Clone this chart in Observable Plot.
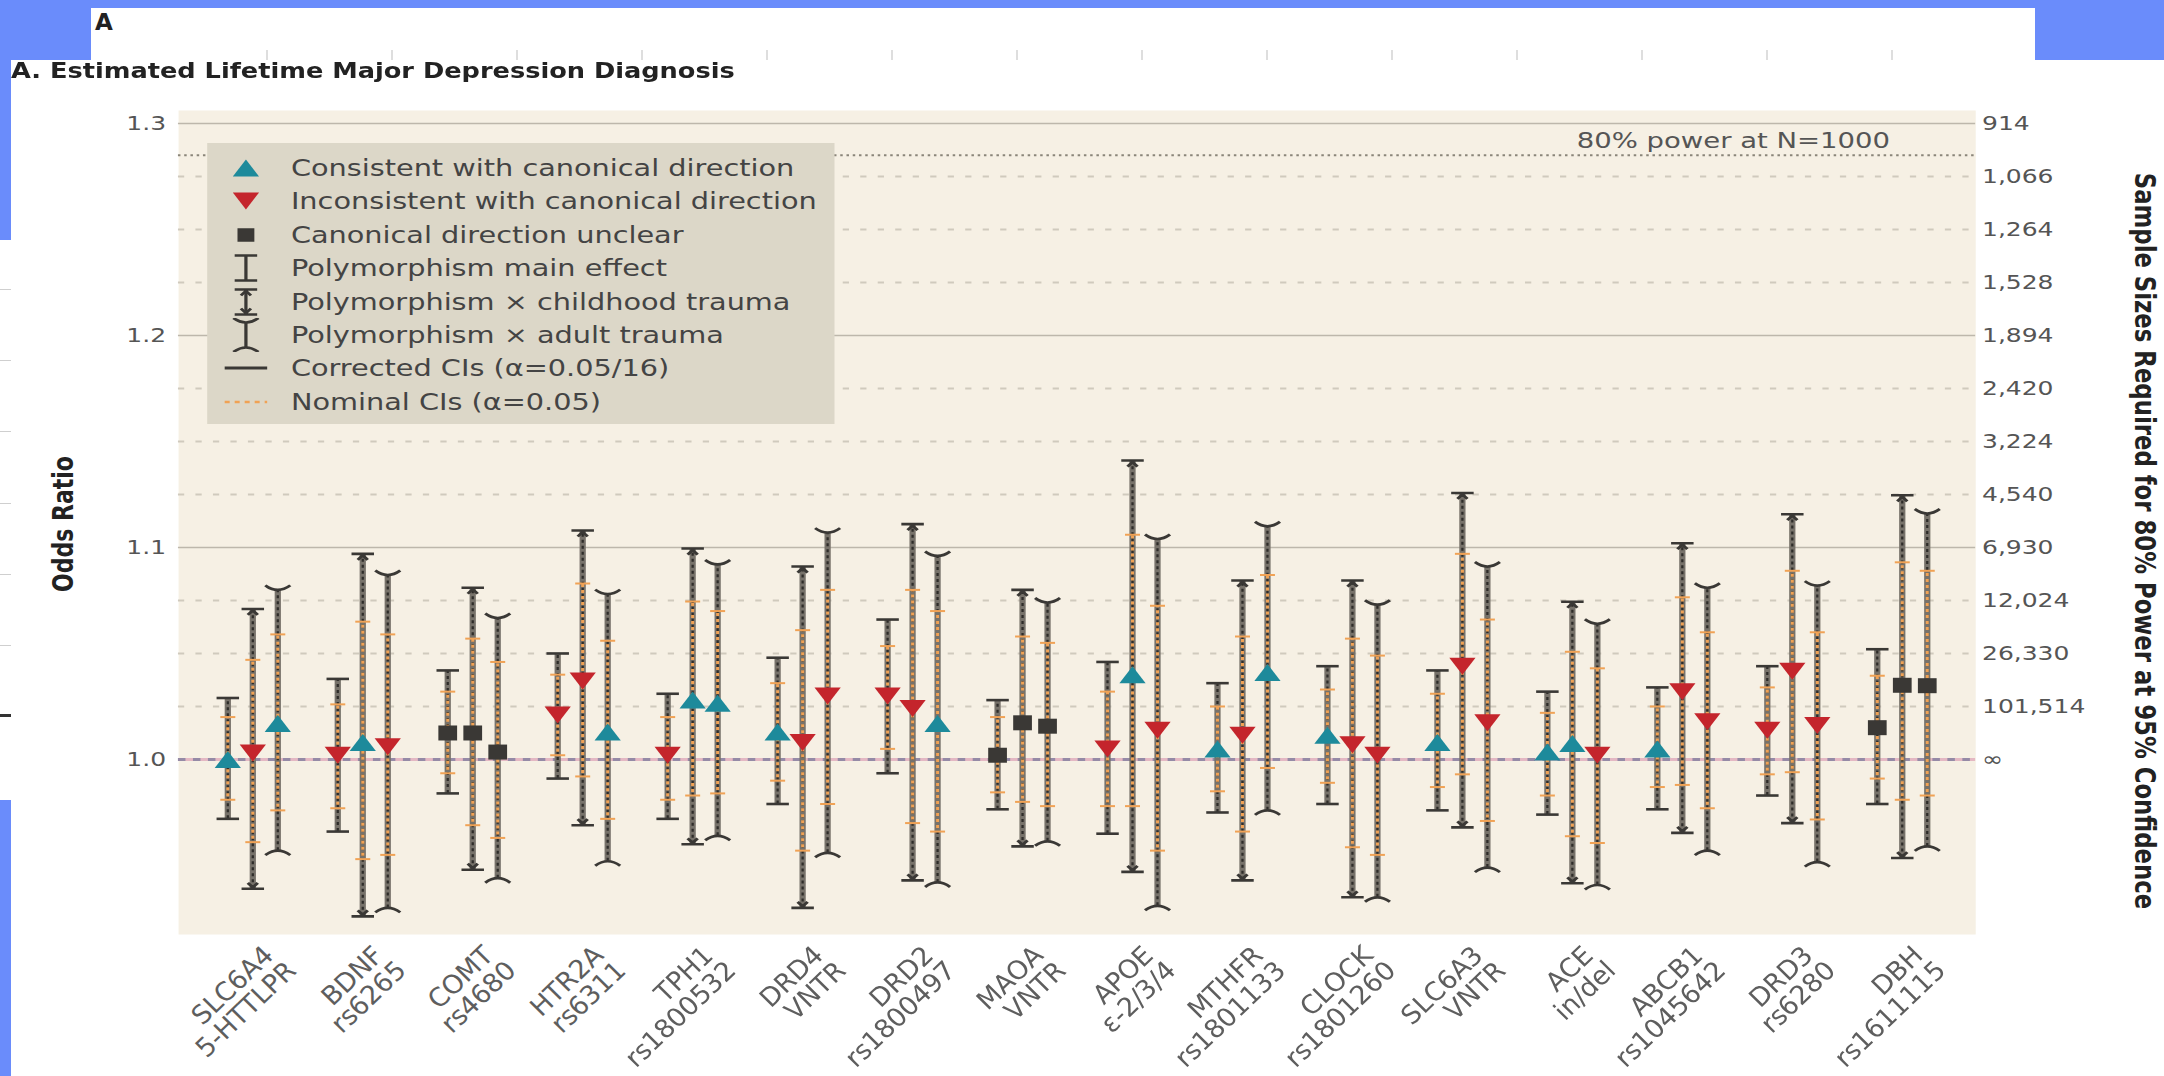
<!DOCTYPE html>
<html><head><meta charset="utf-8">
<script src="https://cdn.jsdelivr.net/npm/d3@7"></script>
<script src="https://cdn.jsdelivr.net/npm/@observablehq/plot@0.6"></script>
<style>
html,body{margin:0;padding:0}
body{width:2164px;height:1076px;background:#6a8cfb;position:relative;overflow:hidden;font-family:"DejaVu Sans",sans-serif}
.abs{position:absolute}
#panel svg{display:block}
</style></head><body>
<div class="abs" style="left:91px;top:8px;width:1944px;height:52px;background:#fff"></div>
<div class="abs" style="left:266px;top:50px;width:1640px;height:10px;background:repeating-linear-gradient(to right,#dedede 0 2px,transparent 2px 125px)"></div>
<div class="abs" style="left:95px;top:10.5px;font:bold 23px/23px 'DejaVu Sans';color:#222">A</div>
<div class="abs" id="frag" style="left:0;top:240px;width:11px;height:560px;background:#fff"></div>
<div class="abs" style="left:11px;top:60px;width:2153px;height:1016px;background:#fff"></div>
<div class="abs" id="panel" style="left:11px;top:60px;width:1723px;height:1016px;transform:scaleX(1.2496);transform-origin:0 0"></div>
<script>
// ---------- data ----------
const genes = ["SLC6A4\n5-HTTLPR","BDNF\nrs6265","COMT\nrs4680","HTR2A\nrs6311","TPH1\nrs1800532","DRD4\nVNTR","DRD2\nrs1800497","MAOA\nVNTR","APOE\nε-2/3/4","MTHFR\nrs1801133","CLOCK\nrs1801260","SLC6A3\nVNTR","ACE\nin/del","ABCB1\nrs1045642","DRD3\nrs6280","DBH\nrs1611115"];
const effects = ["Polymorphism main effect","Polymorphism × childhood trauma","Polymorphism × adult trauma"];

// direction codes: c = consistent, i = inconsistent, u = unclear
const dirMain  = ["c","i","u","i","i","c","i","u","i","c","c","c","c","c","i","u"];
const orMain   = [1.000,1.002,1.0125,1.021,1.002,1.013,1.030,1.002,1.005,1.005,1.0114,1.008,1.0035,1.005,1.0138,1.015];
const loMain   = [0.972,0.966,0.984,0.991,0.972,0.979,0.9935,0.9765,0.965,0.975,0.979,0.976,0.974,0.9765,0.983,0.979];
const hiMain   = [1.029,1.038,1.042,1.050,1.031,1.048,1.066,1.028,1.046,1.036,1.044,1.042,1.032,1.034,1.044,1.052];
const nloMain  = [0.981,0.977,0.9935,1.002,0.981,0.990,1.005,0.9845,0.978,0.985,0.989,0.987,0.983,0.987,0.993,0.991];
const nhiMain  = [1.020,1.026,1.032,1.040,1.020,1.036,1.0535,1.020,1.032,1.025,1.033,1.031,1.022,1.025,1.034,1.0395];

const dirChild = ["i","c","u","i","c","i","i","u","c","i","i","i","c","i","i","u"];
const orChild  = [1.003,1.008,1.0125,1.037,1.028,1.008,1.024,1.0173,1.040,1.0114,1.007,1.044,1.0075,1.032,1.0416,1.035];
const loChild  = [0.939,0.926,0.948,0.969,0.960,0.930,0.943,0.959,0.947,0.943,0.935,0.968,0.9416,0.9654,0.970,0.9535];
const hiChild  = [1.071,1.097,1.081,1.108,1.0995,1.091,1.111,1.080,1.141,1.0844,1.0844,1.1257,1.0744,1.102,1.1157,1.1246];
const nloChild = [0.961,0.953,0.969,0.992,0.983,0.957,0.970,0.980,0.978,0.966,0.9586,0.993,0.9638,0.988,0.994,0.981];
const nhiChild = [1.047,1.065,1.057,1.083,1.0745,1.061,1.080,1.058,1.106,1.058,1.057,1.097,1.0508,1.0765,1.089,1.093];

const dirAdult = ["c","i","u","c","c","i","c","u","i","c","i","i","i","i","i","u"];
const orAdult  = [1.017,1.006,1.0035,1.013,1.0265,1.030,1.017,1.0157,1.0138,1.041,1.002,1.0173,1.002,1.0178,1.016,1.0348];
const loAdult  = [0.957,0.930,0.944,0.952,0.964,0.956,0.942,0.9614,0.931,0.976,0.935,0.949,0.9408,0.957,0.9516,0.959];
const hiAdult  = [1.080,1.087,1.0667,1.078,1.092,1.107,1.096,1.074,1.104,1.110,1.073,1.091,1.064,1.081,1.082,1.116];
const nloAdult = [0.976,0.955,0.963,0.972,0.984,0.979,0.966,0.978,0.957,0.996,0.955,0.971,0.9606,0.977,0.9717,0.983];
const nhiAdult = [1.059,1.059,1.046,1.056,1.070,1.080,1.070,1.055,1.0725,1.087,1.049,1.066,1.043,1.060,1.060,1.089];

const leftTicks = [1.0, 1.1, 1.2, 1.3];
const sampleTicks = [1.3,1.275,1.25,1.225,1.2,1.175,1.15,1.125,1.1,1.075,1.05,1.025,1.0];
const sampleLabels = ["914","1,066","1,264","1,528","1,894","2,420","3,224","4,540","6,930","12,024","26,330","101,514","∞"];
const solidGrid = [1.1, 1.2, 1.3];
const powerOR = 1.285;
const powerLabel = "80% power at N=1000";
const yTitle = "Odds Ratio";
const y2Title = "Sample Sizes Required for 80% Power at 95% Confidence";
const title = "A. Estimated Lifetime Major Depression Diagnosis";
const legendLabels = ["Consistent with canonical direction","Inconsistent with canonical direction","Canonical direction unclear","Polymorphism main effect","Polymorphism × childhood trauma","Polymorphism × adult trauma","Corrected CIs (α=0.05/16)","Nominal CIs (α=0.05)"];

// ---------- styles ----------
const C = {beige:"#f6f0e4", legend:"#dcd7c8", teal:"#1d8a9b", red:"#c4252c", dark:"#3a3835", bar:"#77726a", orange:"#f0a255", grid:"#bdb7ab", dot:"#d0cabd", power:"#8a8579"};

function sym(f){ return {draw: (c) => f(c)}; }
const triUp = sym(c=>{c.moveTo(0,-8.5);c.lineTo(10.5,8.5);c.lineTo(-10.5,8.5);c.closePath();});
const triDown = sym(c=>{c.moveTo(0,8.5);c.lineTo(10.5,-8.5);c.lineTo(-10.5,-8.5);c.closePath();});
const square = sym(c=>{c.moveTo(-7.5,-7.5);c.lineTo(7.5,-7.5);c.lineTo(7.5,7.5);c.lineTo(-7.5,7.5);c.closePath();});
const capFlat = sym(c=>{c.moveTo(-9,0);c.lineTo(9,0);});
const capChildTop = sym(c=>{c.moveTo(-9,0);c.lineTo(9,0);c.moveTo(-4,6);c.lineTo(0,1.5);c.lineTo(4,6);});
const capChildBot = sym(c=>{c.moveTo(-9,0);c.lineTo(9,0);c.moveTo(-4,-6);c.lineTo(0,-1.5);c.lineTo(4,-6);});
const capAdultTop = sym(c=>{c.moveTo(-10,-4.5);c.quadraticCurveTo(0,4.5,10,-4.5);});
const capAdultBot = sym(c=>{c.moveTo(-10,4.5);c.quadraticCurveTo(0,-4.5,10,4.5);});
const nomTick = sym(c=>{c.moveTo(-6,0);c.lineTo(6,0);});

function rows(est, lo, hi, nlo, nhi, dir){
  return genes.map((g,i)=>({gene:g, or:est[i], lo:lo[i], hi:hi[i], nlo:nlo[i], nhi:nhi[i], dir:dir[i]}));
}
const sets = [
  {data: rows(orMain,loMain,hiMain,nloMain,nhiMain,dirMain), dx:-20, top:capFlat, bot:capFlat},
  {data: rows(orChild,loChild,hiChild,nloChild,nhiChild,dirChild), dx:0, top:capChildTop, bot:capChildBot},
  {data: rows(orAdult,loAdult,hiAdult,nloAdult,nhiAdult,dirAdult), dx:20, top:capAdultTop, bot:capAdultBot}
];

const marks = [
  Plot.frame({fill: C.beige, stroke: "none"}),
  Plot.ruleY(sampleTicks.filter(t => t !== 1.0 && !solidGrid.includes(t)), {stroke: C.dot, strokeWidth: 2, strokeDasharray: "5,9"}),
  Plot.ruleY(solidGrid, {stroke: C.grid, strokeWidth: 1.6}),
  Plot.ruleY([powerOR], {stroke: C.power, strokeWidth: 2.2, strokeDasharray: "2,3"}),
  Plot.ruleY([1.0], {stroke: "#e4b8c3", strokeWidth: 3}),
  Plot.ruleY([1.0], {stroke: "#958aa6", strokeWidth: 3, strokeDasharray: "6,6"})
];
for (const s of sets) {
  const dx = s.dx;
  marks.push(
    Plot.ruleX(s.data, {x:"gene", y1:"lo", y2:"hi", dx, stroke: C.bar, strokeWidth: 5}),
    Plot.ruleX(s.data, {x:"gene", y1:"lo", y2:"hi", dx, stroke: "#2e2c29", strokeWidth: 1.8, strokeDasharray: "3,3"}),
    Plot.ruleX(s.data, {x:"gene", y1:"nlo", y2:"nhi", dx, stroke: C.orange, strokeWidth: 2.4, strokeDasharray: "3,3", strokeDashoffset: 3}),
    Plot.dot(s.data, {x:"gene", y:"nlo", dx, symbol: nomTick, fill: "none", stroke: C.orange, strokeWidth: 2}),
    Plot.dot(s.data, {x:"gene", y:"nhi", dx, symbol: nomTick, fill: "none", stroke: C.orange, strokeWidth: 2}),
    Plot.dot(s.data, {x:"gene", y:"hi", dx, symbol: s.top, fill: "none", stroke: C.dark, strokeWidth: 2.6}),
    Plot.dot(s.data, {x:"gene", y:"lo", dx, symbol: s.bot, fill: "none", stroke: C.dark, strokeWidth: 2.6}),
    Plot.dot(s.data, {filter: d => d.dir === "c", x:"gene", y:"or", dx, symbol: triUp, fill: C.teal, stroke: "none"}),
    Plot.dot(s.data, {filter: d => d.dir === "i", x:"gene", y:"or", dx, symbol: triDown, fill: C.red, stroke: "none"}),
    Plot.dot(s.data, {filter: d => d.dir === "u", x:"gene", y:"or", dx, symbol: square, fill: C.dark, stroke: "none"})
  );
}
marks.push(
  Plot.axisY({anchor:"left", ticks: leftTicks, tickFormat: d3.format(".1f"), tickSize:0, tickPadding:10, fontSize:20, color:"#555", label:null}),
  Plot.axisY({anchor:"right", ticks: sampleTicks, tickFormat: d => sampleLabels[sampleTicks.findIndex(t => Math.abs(t - d) < 1e-9)], tickSize:0, tickPadding:5, fontSize:20, color:"#555", label:null}),
  Plot.axisX({anchor:"bottom", tickSize:0, tickPadding:24, tickRotate:-50, fontSize:23.5, fontStyle:"italic", color:"#5e5e5e", dx:22, label:null}),
  Plot.text([powerLabel], {text: d => d, y: [powerOR], frameAnchor:"right", textAnchor:"end", dx:-68.6, dy:-14, fontSize:22, fill:"#555"})
);

const chart = Plot.plot({
  width: 1723, height: 1016,
  marginLeft: 133.6, marginRight: 151.2, marginTop: 50, marginBottom: 142,
  style: {background: "white", fontFamily: "'DejaVu Sans', sans-serif", overflow: "visible"},
  x: {type: "point", domain: genes, padding: 0.617},
  y: {domain: [0.91745, 1.3061]},
  marks
});
const panel = document.getElementById("panel");
panel.appendChild(chart);
chart.style.position = "absolute"; chart.style.left = "0px"; chart.style.top = "0px";

function addDiv(parent, css, text){
  const d = document.createElement("div");
  d.className = "abs"; d.style.cssText = css; if (text != null) d.textContent = text;
  parent.appendChild(d); return d;
}
// title and axis titles
addDiv(panel, "left:0px;top:-1px;font:bold 20.5px/24px 'DejaVu Sans';color:#222;white-space:nowrap", title);
addDiv(panel, "left:43.2px;top:464px;transform:translate(-50%,-50%) rotate(-90deg);font:bold 22px/26px 'DejaVu Sans';color:#222;white-space:nowrap", yTitle);
addDiv(panel, "left:1708px;top:481px;transform:translate(-50%,-50%) rotate(90deg);font:bold 22.8px/26px 'DejaVu Sans';color:#222;white-space:nowrap", y2Title);

// legend
const lg = addDiv(panel, "left:156.8px;top:83px;width:502.4px;height:281px;background:" + C.legend);
function pathOf(s){ const p = d3.path(); s.draw(p, 100); return p.toString(); }
function iconSVG(i){
  const ns = "http://www.w3.org/2000/svg";
  const svg = document.createElementNS(ns, "svg");
  svg.setAttribute("width", 44); svg.setAttribute("height", 34);
  const g = document.createElementNS(ns, "g");
  g.setAttribute("transform", "translate(22,17)");
  svg.appendChild(g);
  const add = (d, attrs, tr) => { const p = document.createElementNS(ns, "path"); p.setAttribute("d", d); for (const k in attrs) p.setAttribute(k, attrs[k]); if (tr) p.setAttribute("transform", tr); g.appendChild(p); };
  const stroke = {fill:"none", stroke:C.dark, "stroke-width":2.6};
  if (i === 0) add(pathOf(triUp), {fill:C.teal});
  if (i === 1) add(pathOf(triDown), {fill:C.red});
  if (i === 2) add(pathOf(square), {fill:C.dark}, "scale(0.9)");
  if (i >= 3 && i <= 5) {
    const caps = [[capFlat,capFlat],[capChildTop,capChildBot],[capAdultTop,capAdultBot]][i-3];
    add("M0,-12.5V12.5", {stroke:C.dark, "stroke-width":2.6});
    add(pathOf(caps[0]), stroke, "translate(0,-12.5)");
    add(pathOf(caps[1]), stroke, "translate(0,12.5)");
  }
  if (i === 6) add("M-17,0H17", {stroke:C.dark, "stroke-width":3});
  if (i === 7) add("M-17,0H17", {stroke:C.orange, "stroke-width":2.5, "stroke-dasharray":"4,4"});
  return svg;
}
legendLabels.forEach((lab, i) => {
  const cy = 25 + 33.4 * i;
  const ic = iconSVG(i);
  ic.style.cssText = "position:absolute;left:9px;top:" + (cy - 17) + "px";
  lg.appendChild(ic);
  addDiv(lg, "left:67.2px;top:" + (cy - 15) + "px;font:23px/30px 'DejaVu Sans';color:#444;white-space:nowrap", lab);
});

// fragment of neighbouring panel at left edge
const frag = document.getElementById("frag");
[49,120,191,263,334,405].forEach(y => addDiv(frag, "left:0;top:"+y+"px;width:11px;height:1px;background:#cfcfcf"));
addDiv(frag, "left:0;top:474px;width:11px;height:3px;background:#333");
</script>
</body></html>
